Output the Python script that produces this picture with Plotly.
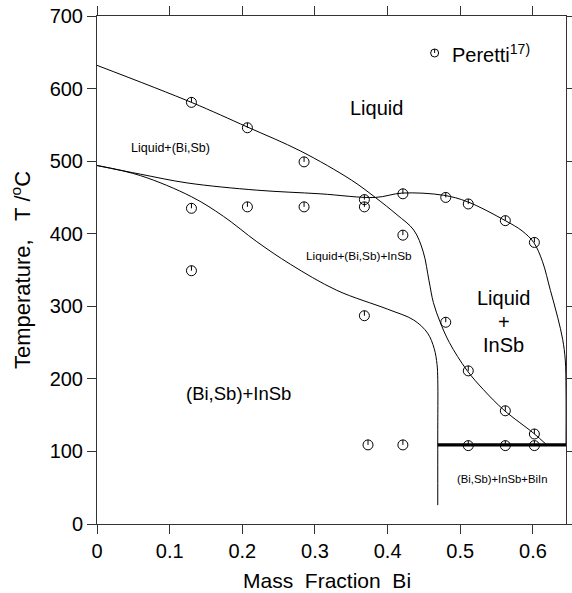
import plotly.graph_objects as go

# ---- data ----
# liquidus of (Bi,Sb), continuing as lower boundary of Liquid+InSb
liq_a_x = [0, 0.13, 0.207, 0.28, 0.35, 0.383, 0.413, 0.436, 0.449, 0.457, 0.463, 0.472, 0.485,
           0.509, 0.532, 0.56, 0.601, 0.619]
liq_a_t = [632, 581, 547, 514, 474, 450, 426, 405, 375, 335, 305, 279, 250,
           212, 185, 157, 125, 109]
# upper line (Liquid+(Bi,Sb) / three-phase, then liquidus of InSb)
line_b_x = [0, 0.06, 0.124, 0.22, 0.307, 0.383, 0.42, 0.477, 0.51, 0.562, 0.585, 0.601, 0.613,
            0.624, 0.634, 0.641, 0.6445, 0.6455, 0.6455]
line_b_t = [494, 482, 470, 460, 455, 450, 456, 453, 444, 418, 404, 388, 362,
            322, 285, 254, 226, 185, 110]
# lower line (three-phase / (Bi,Sb)+InSb) with vertical segment
line_c_x = [0, 0.06, 0.13, 0.174, 0.22, 0.266, 0.33, 0.4, 0.436, 0.455, 0.464, 0.468, 0.469, 0.469, 0.469]
line_c_t = [494, 480, 451, 424, 389, 358, 322, 296, 281, 263, 242, 220, 199, 120, 26]
# eutectic (BiIn) line
eut_x = [0.469, 0.6455]
eut_t = [109, 109]

# experimental points (Peretti)
pts_x = [0.13, 0.207, 0.285, 0.13, 0.207, 0.285, 0.368, 0.368, 0.13, 0.421, 0.48, 0.511, 0.562, 0.602,
         0.421, 0.368, 0.48, 0.511, 0.562, 0.602, 0.373, 0.421, 0.511, 0.562, 0.602]
pts_t = [581, 546, 499, 435, 437, 437, 447, 437, 349, 455, 450, 441, 418, 388,
         398, 287, 278, 211, 156, 124, 109, 109, 108, 108, 108]

legend_x = [0.4647]
legend_t = [649]

x_ticks = [0, 0.1, 0.2, 0.3, 0.4, 0.5, 0.6]
x_tick_text = ["0", "0.1", "0.2", "0.3", "0.4", "0.5", "0.6"]
y_ticks = [0, 100, 200, 300, 400, 500, 600, 700]

FONT = "Liberation Sans, Arial, sans-serif"

fig = go.Figure()

for xs, ts in [(liq_a_x, liq_a_t), (line_b_x, line_b_t), (line_c_x, line_c_t)]:
    fig.add_trace(go.Scatter(x=xs, y=ts, mode="lines",
                             line=dict(color="black", width=1, shape="spline", smoothing=1.0),
                             hoverinfo="skip", showlegend=False))

fig.add_trace(go.Scatter(x=eut_x, y=eut_t, mode="lines",
                         line=dict(color="black", width=3.2), showlegend=False))

tick_len = 7.0
fig.add_trace(go.Scatter(
    x=pts_x, y=pts_t, mode="markers",
    marker=dict(symbol="circle-open", size=10, color="black", line=dict(width=1)),
    error_y=dict(type="data", symmetric=False, array=[tick_len] * len(pts_x),
                 arrayminus=[0] * len(pts_x), width=0, thickness=1, color="black"),
    showlegend=False))

fig.add_trace(go.Scatter(
    x=legend_x, y=legend_t, mode="markers",
    marker=dict(symbol="circle-open", size=8, color="black", line=dict(width=1)),
    error_y=dict(type="data", symmetric=False, array=[5.5], arrayminus=[0],
                 width=0, thickness=1, color="black"),
    showlegend=False))

annotations = [
    dict(x=0.486, y=649, text="Peretti<sup>17)</sup>", xanchor="left", font=dict(size=20)),
    dict(x=0.384, y=573, text="Liquid", font=dict(size=20)),
    dict(x=0.101, y=518, text="Liquid+(Bi,Sb)", font=dict(size=12.5)),
    dict(x=0.36, y=369, text="Liquid+(Bi,Sb)+InSb", font=dict(size=11.8)),
    dict(x=0.5596, y=311, text="Liquid", font=dict(size=20)),
    dict(x=0.5596, y=279, text="+", font=dict(size=20)),
    dict(x=0.5596, y=247, text="InSb", font=dict(size=20)),
    dict(x=0.195, y=180, text="(Bi,Sb)+InSb", font=dict(size=18.5)),
    dict(x=0.557, y=62, text="(Bi,Sb)+InSb+BiIn", font=dict(size=11.3)),
]
for a in annotations:
    a.update(xref="x", yref="y", showarrow=False)
    a["font"].update(family=FONT, color="black")

# axis titles placed relative to the paper
annotations += [
    dict(xref="paper", yref="paper", x=0.49, y=-0.112, yanchor="middle",
         text="Mass\u00a0\u00a0Fraction\u00a0\u00a0Bi", showarrow=False,
         font=dict(family=FONT, size=21, color="black")),
    dict(xref="paper", yref="paper", x=-0.162, y=0.5, xanchor="center", yanchor="middle",
         textangle=-90, text="Temperature,\u00a0\u00a0\u00a0T\u00a0/<sup>o</sup>C", showarrow=False,
         font=dict(family=FONT, size=22, color="black")),
]

axis_common = dict(showline=True, linecolor="#333", linewidth=1, mirror="ticks",
                   ticks="outside", ticklen=9, tickcolor="#333", tickwidth=1,
                   showgrid=False, zeroline=False, automargin=False,
                   tickfont=dict(family=FONT, size=20, color="black"))

fig.update_layout(
    width=572, height=593,
    margin=dict(l=97, r=6, t=16, b=69),
    paper_bgcolor="white", plot_bgcolor="white",
    font=dict(family=FONT, color="black"),
    xaxis=dict(range=[0, 0.6455], tickvals=x_ticks, ticktext=x_tick_text, **axis_common),
    yaxis=dict(range=[0, 700], tickvals=y_ticks, **axis_common),
    annotations=annotations,
    showlegend=False,
)

fig.write_html("out.html")
